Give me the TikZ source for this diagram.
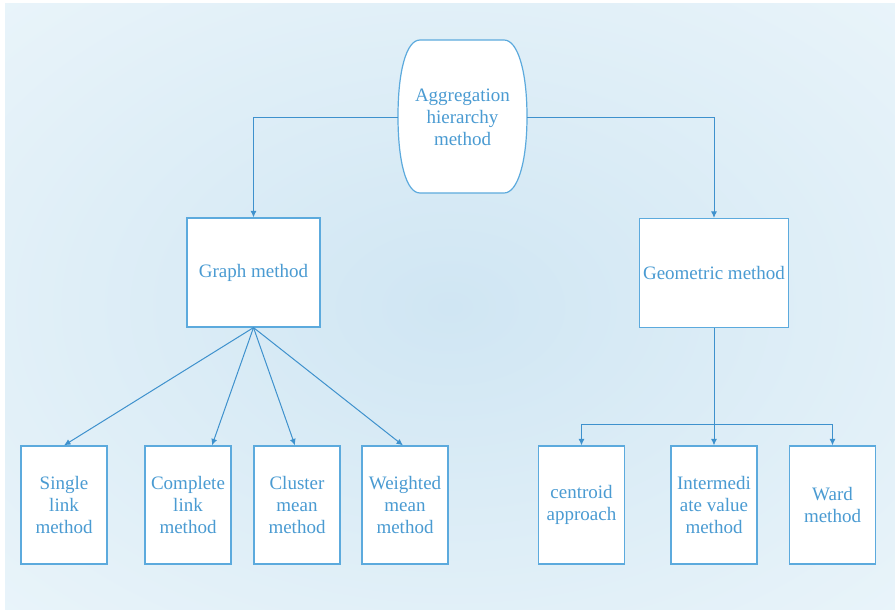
\documentclass[tikz,border=0pt]{standalone}
\usepackage{fontspec}
\setmainfont{Liberation Serif}
\usepackage{tikz}
\usetikzlibrary{arrows.meta}

\definecolor{linkblue}{RGB}{62,145,205}
\definecolor{boxblue}{RGB}{92,170,221}
\definecolor{textblue}{RGB}{74,155,210}
\definecolor{bginner}{RGB}{208,230,243}
\definecolor{bgouter}{RGB}{233,244,250}

\pgfdeclareradialshading{bgglow}{\pgfpoint{0bp}{0bp}}{%
  color(0bp)=(bginner); color(36bp)=(bgouter); color(50bp)=(bgouter)}

\tikzset{
  methodbox/.style={draw=boxblue, line width=1.2pt, fill=white, inner sep=0pt,
    text=textblue, align=center, font=\fontsize{19}{22}\selectfont},
  bigbox/.style={methodbox, minimum width=133pt, minimum height=109pt},
  smallbox/.style={methodbox, minimum width=86pt, minimum height=118pt},
  link/.style={draw=linkblue, line width=1pt, -{Latex[length=6.5pt,width=6pt]}}
}

\begin{document}
\begin{tikzpicture}[x=1pt, y=-1pt]
  \useasboundingbox (0,0) rectangle (895,610);
  \fill[white] (0,0) rectangle (895,610);
  \shade[shading=bgglow] (5,4) rectangle (895,610);

  % top node with bulged sides
  \draw[draw=boxblue, line width=1.2pt, fill=white]
    (420,40) -- (504,40) .. controls (518,40) and (527,72) .. (527,116.5)
    .. controls (527,161) and (518,193) .. (504,193) -- (420,193)
    .. controls (406,193) and (398,161) .. (398,116.5)
    .. controls (398,72) and (406,40) .. (420,40) -- cycle;
  \node[inner sep=0pt, minimum width=129pt, minimum height=153pt, text=textblue,
    align=center, font=\fontsize{19}{22}\selectfont] (agg) at (462.5,117.5)
    {Aggregation\\hierarchy\\method};

  \node[bigbox] (graph) at (253.5,272.5) {Graph method};
  \node[bigbox, minimum width=149pt] (geo) at (714,273) {Geometric method};

  \node[smallbox] (single) at (64,505) {Single\\link\\method};
  \node[smallbox] (complete) at (188,505) {Complete\\link\\method};
  \node[smallbox] (cluster) at (297,505) {Cluster\\mean\\method};
  \node[smallbox] (weighted) at (405,505) {Weighted\\mean\\method};

  \node[smallbox] (centroid) at (581.5,505) {centroid\\approach};
  \node[smallbox] (inter) at (714,505) {Intermedi\\ate value\\method};
  \node[smallbox] (ward) at (832.5,505) {Ward\\method};

  \draw[link] (agg.west) -| (graph.north);
  \draw[link] (agg.east) -| (geo.north);

  \draw[link] (graph.south) -- (single.north);
  \draw[link] (graph.south) -- ([xshift=24pt]complete.north);
  \draw[link] (graph.south) -- ([xshift=-2pt]cluster.north);
  \draw[link] (graph.south) -- ([xshift=-2pt]weighted.north);

  \coordinate (split) at (714,424);
  \draw[link] (geo.south) -- (inter.north);
  \draw[link] (split) -| (centroid.north);
  \draw[link] (split) -| (ward.north);
\end{tikzpicture}
\end{document}
